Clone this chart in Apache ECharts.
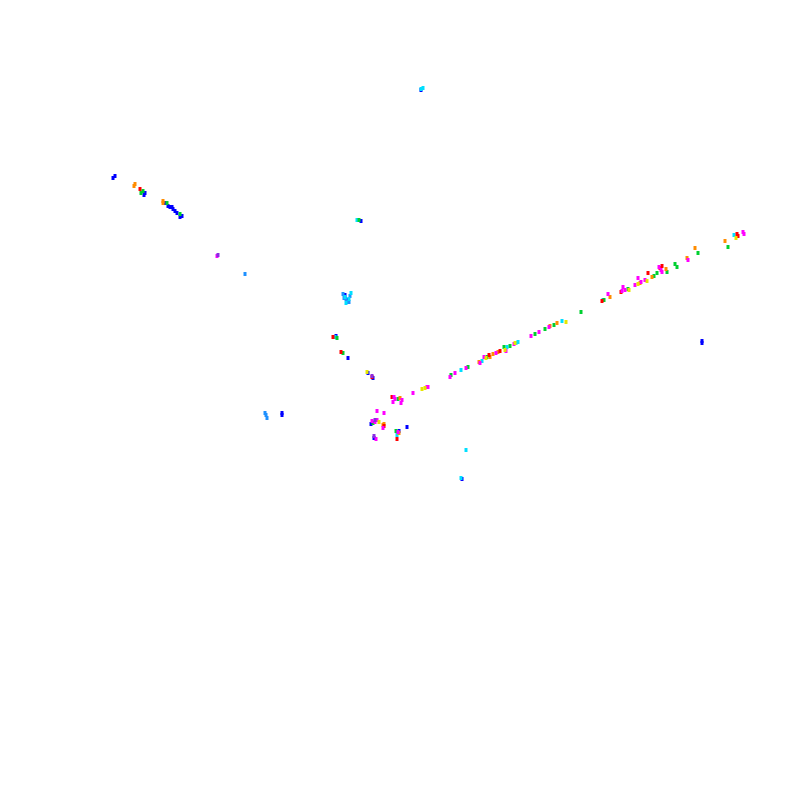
<!DOCTYPE html>
<html><head><meta charset="utf-8">
<script src="https://cdn.jsdelivr.net/npm/echarts@6/dist/echarts.min.js"></script>
<style>html,body{margin:0;padding:0;background:#fff}#c{width:800px;height:800px}</style>
</head><body><div id="c"></div>
<script>
const blue = [[115,176],[113,178],[145,193],[144,195],[165,203],[168,206],[170,207],[172,207],[173,209],[175,211],[177,213],[182,216],[180,217],[421,90],[282,413],[282,415],[462,479],[702,341],[702,343],[368,373],[373,378],[336,336],[348,358],[407,427],[374,438],[345,295],[348,300],[361,221],[371,424],[399,431]];
const dodger = [[266,415],[267,418],[265,413],[344,298],[350,296],[347,302],[245,274],[343,294],[346,299],[349,302]];
const cyan = [[421,89],[423,88],[466,450],[461,478],[734,235],[603,300],[562,321],[518,342],[516,343],[507,347],[482,361],[461,370],[397,435],[335,337],[357,220],[349,299],[346,303],[351,293],[345,297]];
const green = [[143,191],[141,193],[167,203],[180,214],[728,247],[698,253],[675,264],[677,267],[667,272],[657,273],[654,276],[628,289],[604,300],[581,312],[554,325],[545,329],[535,334],[510,346],[504,347],[487,357],[468,367],[451,375],[398,399],[373,423],[396,431],[343,353],[337,338],[359,220]];
const orange = [[135,184],[134,186],[163,201],[163,203],[725,241],[695,248],[687,258],[666,269],[652,277],[640,283],[610,297],[557,323],[550,326],[498,352],[493,354],[490,357],[479,362],[383,425],[399,433],[384,424],[400,398]];
const red = [[140,189],[737,234],[738,236],[660,268],[648,273],[621,292],[602,301],[500,351],[489,355],[397,439],[341,352],[333,337],[372,377],[392,397],[384,426],[662,266]];
const magenta = [[743,232],[744,234],[688,260],[662,272],[659,267],[645,280],[638,278],[641,282],[635,285],[623,287],[625,290],[608,294],[549,327],[539,332],[531,336],[514,344],[506,351],[496,353],[484,357],[480,363],[466,368],[455,373],[450,377],[427,387],[413,393],[395,399],[402,400],[393,402],[401,403],[377,411],[384,413],[372,421],[377,420],[383,428],[398,432],[376,439],[217,256],[428,387],[375,422],[394,397],[622,291],[661,270]];
const yellow = [[736,238],[647,281],[638,284],[629,290],[486,358],[515,343],[505,350],[422,389],[367,372],[425,388],[566,322],[379,422]];
const purple = [[218,255],[372,376],[375,420],[374,436]];

const groups = [
  [blue,'#0000ff'],[dodger,'#1e90ff'],[cyan,'#00dfff'],[green,'#00d030'],
  [orange,'#ff8c00'],[red,'#ff0000'],[magenta,'#ff00ff'],[yellow,'#e6e600'],[purple,'#8a2be2']
];
const chart = echarts.init(document.getElementById('c'));
chart.setOption({
  animation:false,
  grid:{left:0,right:0,top:0,bottom:0},
  xAxis:{type:'value',min:0,max:800,show:false},
  yAxis:{type:'value',min:0,max:800,inverse:true,show:false},
  series: groups.map(g=>({type:'scatter',symbol:'rect',symbolSize:[3,4],data:g[0],itemStyle:{color:g[1],opacity:1},silent:true}))
});
</script></body></html>
